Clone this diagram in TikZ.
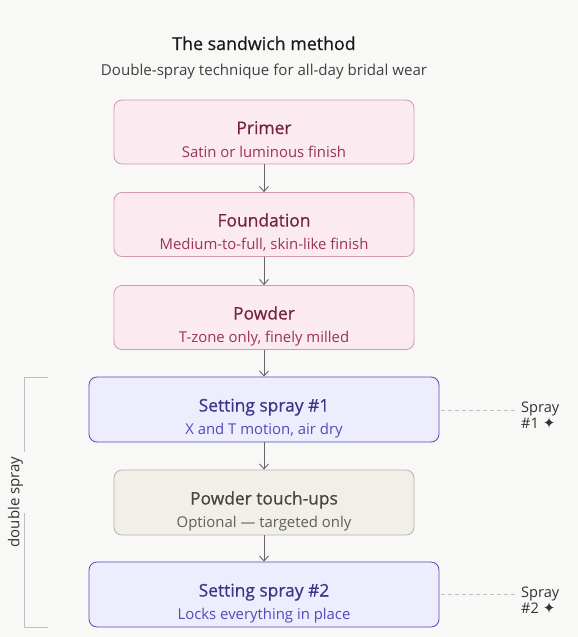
\documentclass[tikz,border=0pt]{standalone}
\usepackage{fontspec}
\setmainfont{Open Sans}
\newfontfamily\medfont[FakeBold=0.6]{Open Sans}
\newfontfamily\symfont{DejaVu Sans}
\usetikzlibrary{arrows.meta}
\definecolor{bg}{HTML}{F8F8F6}
\definecolor{pinkfill}{HTML}{FBEAEF}
\definecolor{pinkline}{HTML}{D39AAE}
\definecolor{pinktitle}{HTML}{72243E}
\definecolor{pinksub}{HTML}{993556}
\definecolor{bluefill}{HTML}{EEEDFE}
\definecolor{blueline}{HTML}{534AB7}
\definecolor{bluetitle}{HTML}{3C3489}
\definecolor{bluesub}{HTML}{534AB7}
\definecolor{grayfill}{HTML}{F1EFE8}
\definecolor{grayline}{HTML}{B4B2A9}
\definecolor{graytitle}{HTML}{444441}
\definecolor{graysub}{HTML}{5F5E5A}
\tikzset{
  x=1pt, y=-1pt,
  stepbase/.style={draw, rounded corners=8pt, line width=0.8pt, inner sep=0pt},
  pinkbox/.style={stepbase, fill=pinkfill, draw=pinkline, minimum width=300pt, minimum height=64pt},
  bluebox/.style={stepbase, fill=bluefill, draw=blueline, minimum width=350pt, minimum height=65pt},
  graybox/.style={stepbase, fill=grayfill, draw=grayline, minimum width=300pt, minimum height=65pt},
  boxtitle/.style={anchor=base, inner sep=0pt, font=\medfont\fontsize{17.4}{19}\selectfont},
  boxsub/.style={anchor=base, inner sep=0pt, font=\fontsize{14.9}{16}\selectfont},
  flow/.style={draw=black!60, line width=0.9pt, -{Straight Barb[length=5pt,width=9pt,line width=0.9pt]}},
  sidedash/.style={draw=black!25, line width=0.8pt, dash pattern=on 4pt off 3pt},
  sidetext/.style={font=\fontsize{14.6}{16}\selectfont, text=black!80, anchor=base west, inner sep=0pt},
}
\begin{document}
\begin{tikzpicture}
\fill[bg] (0,0) rectangle (578,637);
\useasboundingbox (0,0) rectangle (578,637);
\node[anchor=base, inner sep=0pt, font=\medfont\fontsize{17.8}{19}\selectfont, text=black!90] (title) at (264,50) {The sandwich method};
\node[anchor=base, inner sep=0pt, font=\fontsize{15.1}{16}\selectfont, text=black!75] (subtitle) at (264,75) {Double-spray technique for all-day bridal wear};

% boxes (top y + 32.5 = centre)
\node[pinkbox] (primer) at (264,132) {};
\node[pinkbox] (found) at (264,224.5) {};
\node[pinkbox] (powder) at (264,317.5) {};
\node[bluebox] (spray1) at (264,409.5) {};
\node[graybox] (touch) at (264,502.5) {};
\node[bluebox] (spray2) at (264,594.5) {};

\node[boxtitle, text=pinktitle] (primerT) at (264,134) {Primer};
\node[boxsub, text=pinksub] (primerS) at (264,157) {Satin or luminous finish};
\node[boxtitle, text=pinktitle] (foundT) at (264,226.5) {Foundation};
\node[boxsub, text=pinksub] (foundS) at (264,249.5) {Medium-to-full, skin-like finish};
\node[boxtitle, text=pinktitle] (powderT) at (264,319.5) {Powder};
\node[boxsub, text=pinksub] (powderS) at (264,342.5) {T-zone only, finely milled};
\node[boxtitle, text=bluetitle] (spray1T) at (264,411.5) {Setting spray \#1};
\node[boxsub, text=bluesub] (spray1S) at (264,434.5) {X and T motion, air dry};
\node[boxtitle, text=graytitle] (touchT) at (264,504.5) {Powder touch-ups};
\node[boxsub, text=graysub] (touchS) at (264,527.5) {Optional — targeted only};
\node[boxtitle, text=bluetitle] (spray2T) at (264,596.5) {Setting spray \#2};
\node[boxsub, text=bluesub] (spray2S) at (264,619.5) {Locks everything in place};

\draw[flow] (primer) -- (found);
\draw[flow] (found) -- (powder);
\draw[flow] (powder) -- (spray1);
\draw[flow] (spray1) -- (touch);
\draw[flow] (touch) -- (spray2);

\coordinate (bt) at (48,377);
\coordinate (bb) at (48,627);
\draw[draw=black!25, line width=0.9pt] (bt) -- (24,377) -- (24,452);
\draw[draw=black!25, line width=0.9pt] (24,513) -- (24,627) -- (bb);
\node[rotate=90, font=\fontsize{15}{16}\selectfont, text=black!80, inner sep=0pt] (dlabel) at (15.5,502) {double spray};

\coordinate (d1) at (515,410);
\coordinate (d2) at (515,594.5);
\draw[sidedash] (spray1.east |- d1) ++(2,0) -- (d1);
\draw[sidedash] (spray2.east |- d2) ++(2,0) -- (d2);
\node[sidetext] (s1a) at (521,412.5) {Spray};
\node[sidetext] (s1b) at (521,428.5) {\#1 {\symfont\fontsize{15}{15}\selectfont ✦}};
\node[sidetext] (s2a) at (521,597) {Spray};
\node[sidetext] (s2b) at (521,613) {\#2 {\symfont\fontsize{15}{15}\selectfont ✦}};
\end{tikzpicture}
\end{document}
